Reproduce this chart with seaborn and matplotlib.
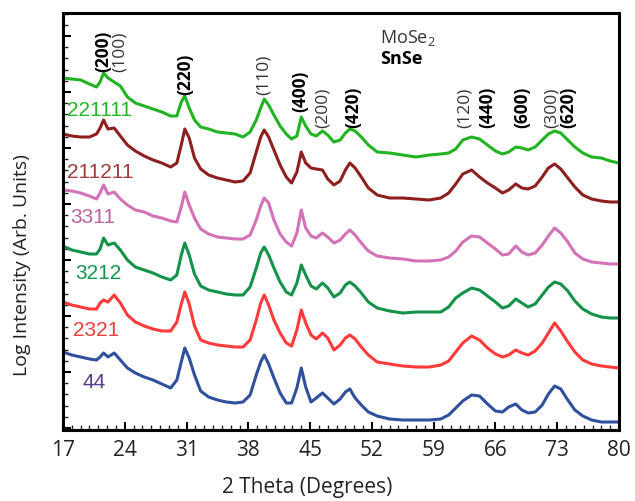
import matplotlib
matplotlib.use("Agg")
import matplotlib.pyplot as plt
import seaborn as sns
import pandas as pd
from matplotlib.ticker import MultipleLocator, NullFormatter

# ---------------- data ----------------
two_theta = [17, 18, 19, 20, 20.8, 21.2, 21.6, 22.1, 22.8, 23.5,
             24.3, 25.2, 26.2, 27.2, 28.2, 29.2, 29.9, 30.4, 30.8, 31.3,
             31.9, 32.6, 33.5, 34.5, 35.5, 36.5, 37.4, 38.2, 38.9, 39.4,
             39.8, 40.3, 40.9, 41.6, 42.3, 42.9, 43.5, 44.0, 44.5, 45.1,
             45.7, 46.4, 47.0, 47.7, 48.4, 49.0, 49.5, 50.1, 50.8, 51.6,
             52.6, 54, 55.5, 57, 58.5, 59.8, 60.7, 61.5, 62.3, 63.3,
             64.2, 65.1, 66, 66.8, 67.5, 68.3, 69, 69.7, 70.5, 71.3,
             72.0, 72.7, 73.4, 74.2, 75, 75.9, 76.9, 78, 79, 80]

samples = ["221111", "211211", "3311", "3212", "2321", "44"]

int_221111 = [352, 351, 350, 346, 343, 348, 357, 352, 348, 344,
              333, 327, 324, 321, 318, 314, 314, 328, 334, 322,
              310, 303, 301, 298, 297, 296, 293, 298, 310, 322,
              331, 325, 315, 304, 296, 291, 294, 313, 304, 296,
              294, 299, 295, 288, 290, 297, 301, 299, 293, 285,
              278, 277, 275, 273, 275, 276, 277, 281, 290, 293,
              291, 285, 279, 276, 278, 283, 282, 280, 283, 290,
              296, 299, 297, 290, 283, 277, 273, 272, 269, 267]
int_211211 = [296, 294, 293, 293, 296, 302, 310, 301, 302, 294,
              285, 279, 274, 270, 267, 263, 267, 285, 301, 292,
              272, 261, 255, 252, 250, 248, 249, 257, 278, 293,
              300, 293, 280, 265, 253, 247, 258, 278, 267, 262,
              261, 260, 251, 245, 249, 260, 267, 262, 253, 242,
              235, 232, 232, 231, 230, 232, 237, 246, 256, 260,
              253, 247, 242, 237, 240, 246, 242, 241, 244, 253,
              262, 266, 261, 252, 243, 235, 231, 229, 228, 228]
int_3311 = [240, 239, 237, 234, 231, 237, 245, 236, 238, 231,
            225, 220, 218, 214, 212, 209, 208, 223, 238, 225,
            212, 201, 196, 193, 192, 191, 191, 195, 210, 224,
            232, 227, 210, 196, 188, 184, 197, 220, 202, 194,
            192, 197, 193, 187, 190, 196, 200, 195, 187, 179,
            174, 172, 171, 169, 169, 170, 173, 179, 188, 194,
            193, 187, 181, 175, 176, 184, 178, 175, 177, 185,
            194, 202, 197, 188, 177, 171, 168, 167, 166, 166]
int_3212 = [184, 180, 178, 176, 176, 181, 192, 185, 187, 180,
            170, 163, 160, 157, 153, 150, 155, 175, 187, 175,
            156, 144, 140, 138, 136, 135, 135, 143, 162, 177,
            183, 175, 162, 148, 138, 135, 147, 165, 155, 144,
            141, 147, 142, 133, 137, 145, 148, 144, 137, 128,
            122, 119, 117, 118, 118, 118, 123, 132, 137, 142,
            140, 134, 128, 122, 124, 131, 127, 123, 126, 135,
            143, 148, 146, 139, 129, 121, 116, 113, 112, 112]
int_2321 = [128, 125, 123, 121, 121, 127, 130, 128, 135, 127,
            115, 108, 104, 101, 99, 99, 108, 126, 138, 126,
            104, 90, 87, 85, 84, 83, 83, 90, 110, 127,
            135, 125, 110, 97, 87, 84, 100, 120, 107, 95,
            91, 97, 92, 80, 85, 92, 95, 91, 83, 75,
            68, 66, 64, 63, 63, 65, 69, 78, 87, 94,
            90, 82, 76, 73, 75, 80, 77, 75, 79, 87,
            97, 107, 99, 88, 78, 70, 66, 64, 63, 62]
int_44 = [78, 75, 73, 71, 70, 73, 77, 73, 77, 70,
          62, 57, 53, 50, 46, 42, 50, 68, 82, 72,
          55, 39, 33, 30, 28, 27, 28, 35, 55, 68,
          75, 66, 52, 37, 27, 27, 42, 62, 43, 28,
          32, 37, 32, 26, 31, 38, 41, 32, 25, 18,
          14, 11, 10, 10, 10, 11, 15, 22, 29, 35,
          34, 26, 19, 18, 23, 26, 20, 17, 18, 25,
          36, 44, 41, 30, 20, 14, 10, 8, 8, 8]

# peak annotations: (label, 2theta, bottom of text, bold = SnSe)
peak_labels = ["(200)", "(100)", "(220)", "(110)", "(400)", "(200)", "(420)",
               "(120)", "(440)", "(600)", "(300)", "(620)"]
peak_pos = [21.6, 23.4, 30.8, 39.8, 43.9, 46.4, 49.85, 62.5, 65.1, 69.0, 72.4, 74.3]
peak_base = [358, 358, 335, 335, 318, 302, 302, 302, 302, 302, 302, 302]
peak_bold = [True, False, True, False, True, False, True, False, True, True, False, True]

# sample label positions
label_x = [17.45, 17.45, 17.8, 18.36, 18.13, 19.26]
label_y = [320, 258, 213, 157, 99, 48]

line_colors = ["#22b322", "#8e1f1f", "#d472b6", "#14924a", "#ff3a3a", "#2f4f9f"]
label_colors = ["#22b822", "#a33b3b", "#c0609f", "#14964e", "#f03a3a", "#553a8f"]

# ---------------- figure ----------------
sns.set_style("ticks")
plt.rcParams["font.family"] = ["Open Sans", "DejaVu Sans"]
plt.rcParams["mathtext.fontset"] = "custom"
plt.rcParams["mathtext.rm"] = "Open Sans"

rows = []
for name, vals in zip(samples, [int_221111, int_211211, int_3311, int_3212, int_2321, int_44]):
    for t, v in zip(two_theta, vals):
        rows.append({"two_theta": t, "intensity": v, "sample": name})
df = pd.DataFrame(rows)

fig = plt.figure(figsize=(6.35, 5.01), dpi=100)
ax = fig.add_axes([63 / 635, 1 - 430 / 501, 556 / 635, 417 / 501])

sns.lineplot(data=df, x="two_theta", y="intensity", hue="sample",
             hue_order=samples, palette=line_colors, legend=False,
             estimator=None, linewidth=2.2, ax=ax)
for ln in ax.get_lines():
    ln.set_solid_joinstyle("round")

ax.set_xlim(17, 80)
ax.set_ylim(0, 417)

for s in ax.spines.values():
    s.set_linewidth(2.2)
    s.set_color("black")
    s.set_visible(True)

ax.xaxis.set_major_locator(MultipleLocator(7, offset=3))
ax.xaxis.set_minor_locator(MultipleLocator(1))
ax.yaxis.set_major_locator(MultipleLocator(56, offset=2))
ax.yaxis.set_minor_locator(MultipleLocator(11.2, offset=2))
ax.yaxis.set_major_formatter(NullFormatter())
ax.tick_params(axis="both", which="major", direction="in", length=6, width=1.5,
               labelsize=15, colors="black", pad=7)
ax.tick_params(axis="both", which="minor", direction="in", length=3.5, width=1.0)
ax.tick_params(axis="y", which="both", left=True, right=False)
ax.tick_params(axis="x", which="both", top=False)
for lab in ax.get_xticklabels():
    lab.set_color("#222222")

ax.set_xlabel("2 Theta (Degrees)", fontsize=15, color="#222222")
ax.set_ylabel("Log Intensity (Arb. Units)", fontsize=14, color="#222222")
ax.xaxis.set_label_coords(0.44, -0.139)
ax.xaxis.label.set_va("center")
ax.yaxis.set_label_coords(-0.074, 0.396)
ax.yaxis.label.set_va("center")

for txt, x, yb, b in zip(peak_labels, peak_pos, peak_base, peak_bold):
    ax.text(x, yb, txt, rotation=90, ha="center", va="bottom", fontsize=12.5,
            fontweight="bold" if b else "normal",
            color="black" if b else "#333333")

for name, x, y, c in zip(samples, label_x, label_y, label_colors):
    ax.text(x, y, name, ha="left", va="center", fontsize=15, color=c,
            family=["Liberation Sans", "DejaVu Sans"])

ax.text(52.9, 392, r"MoSe$_\mathregular{2}$", ha="left", va="center",
        fontsize=13, color="#333333")
ax.text(52.9, 371, "SnSe", ha="left", va="center", fontsize=13,
        fontweight="bold", color="black")

fig.savefig("out.png", dpi=100)
